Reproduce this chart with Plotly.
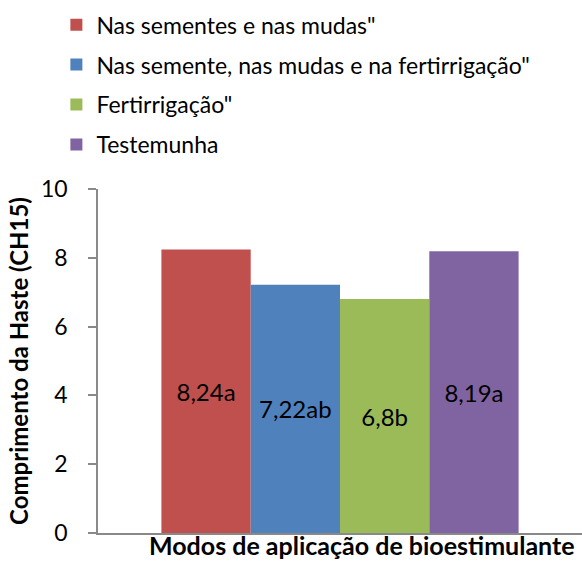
import plotly.graph_objects as go

categories = ["Modos de aplicação de bioestimulante"]
series_names = [
    'Nas sementes e nas mudas"',
    'Nas semente, nas mudas e na fertirrigação"',
    'Fertirrigação"',
    'Testemunha',
]
values = [8.24, 7.22, 6.80, 8.19]
labels = ["8,24a", "7,22ab", "6,8b", "8,19a"]
colors = ["#C0504D", "#4F81BD", "#9BBB59", "#8064A2"]
y_ticks = [0, 2, 4, 6, 8, 10]

FONT = "Lato, Carlito, 'Open Sans', sans-serif"
FS = 23

fig = go.Figure()
for i, (name, v, lab, c) in enumerate(zip(series_names, values, labels, colors)):
    fig.add_trace(go.Bar(
        x=categories, y=[v], name=name, legendgroup=f"g{i}",
        marker=dict(color=c, line=dict(width=0)),
        text=[lab], textposition="inside", insidetextanchor="middle",
        textangle=0, textfont=dict(family=FONT, size=24, color="#000000"),
        hoverinfo="skip",
    ))

fig.update_layout(
    width=582, height=563,
    margin=dict(l=98, r=0, t=189, b=30),
    paper_bgcolor="white", plot_bgcolor="white",
    barmode="group", bargap=0.262, bargroupgap=0,
    font=dict(family=FONT, size=FS, color="#000000"),
    showlegend=True,
    legend=dict(
        x=-0.086, y=1.54, xanchor="left", yanchor="top",
        orientation="v", traceorder="grouped", tracegroupgap=7,
        font=dict(family=FONT, size=FS, color="#000000"),
        bgcolor="rgba(0,0,0,0)",
    ),
    xaxis=dict(
        range=[-0.5, 0.5], showticklabels=False, ticks="",
        showline=True, linecolor="#898989", linewidth=1.5,
        showgrid=False, zeroline=False,
    ),
    yaxis=dict(
        range=[0, 10], tickvals=y_ticks, ticktext=[str(t) for t in y_ticks],
        ticks="outside", ticklen=8, tickcolor="#898989", tickwidth=1.5,
        ticklabelstandoff=16,
        showline=True, linecolor="#898989", linewidth=1.5,
        showgrid=False, zeroline=False,
        tickfont=dict(family=FONT, size=FS, color="#000000"),
        title=dict(text="<b>Comprimento da Haste (CH15)</b>", standoff=6,
                   font=dict(family=FONT, size=24, color="#000000")),
    ),
    annotations=[dict(
        text="<b>" + categories[0] + "</b>", xref="paper", yref="paper",
        x=0.545, y=-0.083, xanchor="center", yanchor="bottom",
        showarrow=False, font=dict(family=FONT, size=25, color="#000000"),
    )],
)

fig.write_html("out.html", config={"displayModeBar": False},
               post_script="document.body.style.margin='0';")
